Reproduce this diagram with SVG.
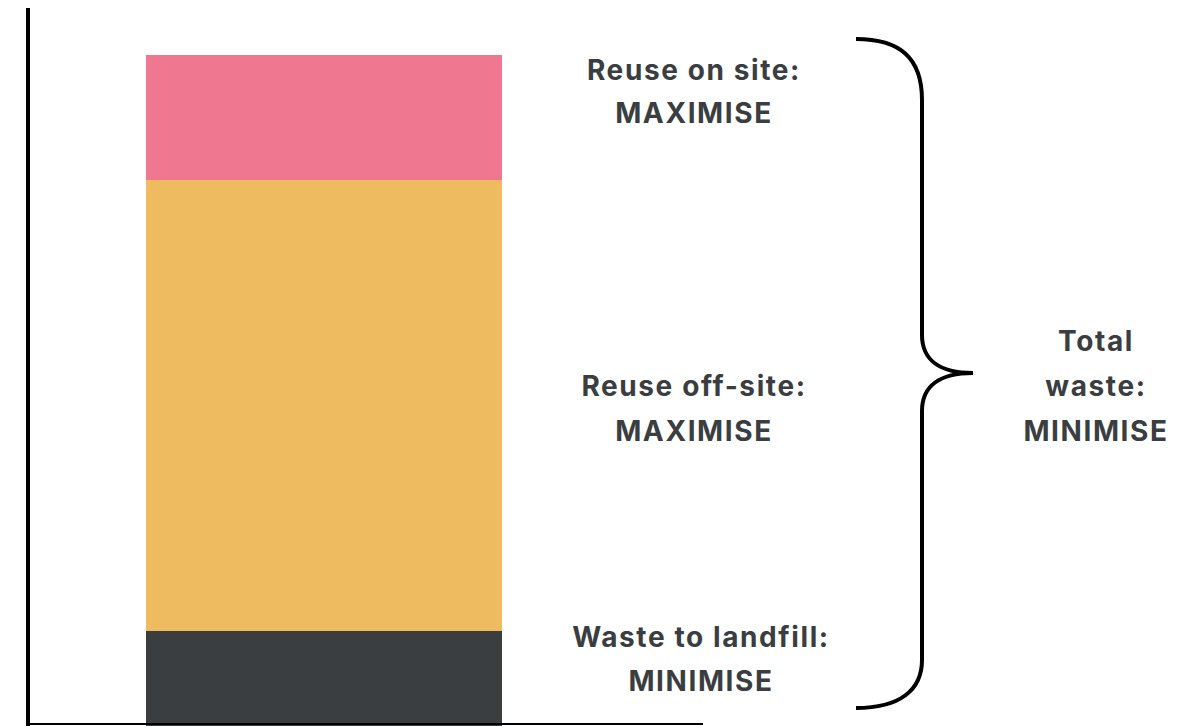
<svg xmlns="http://www.w3.org/2000/svg" width="1200" height="726" viewBox="0 0 1200 726">
  <style>
    .lbl { font-family: Inter, "Liberation Sans", sans-serif; font-weight: 700; font-size: 28px; letter-spacing: 1.6px; fill: #3a3e41; text-anchor: middle; }
    .axis { stroke: #000; fill: none; }
    .brace { stroke: #000; stroke-width: 4; fill: none; stroke-linecap: butt; }
  </style>
  <rect width="1200" height="726" fill="#fff"/>

  <!-- stacked bar -->
  <g id="bar-onsite"><rect x="146" y="55" width="356" height="125" fill="#ef778f"/></g>
  <g id="bar-offsite"><rect x="146" y="180" width="356" height="451" fill="#efbb60"/></g>
  <g id="bar-landfill"><rect x="146" y="631" width="356" height="95" fill="#3a3e41"/></g>

  <!-- axes -->
  <g id="axes">
    <line class="axis" x1="28" y1="8" x2="28" y2="726" stroke-width="4"/>
    <line class="axis" x1="26" y1="724" x2="703" y2="724" stroke-width="2"/>
  </g>

  <!-- labels -->
  <g id="label-onsite">
    <text class="lbl" x="694" y="80">Reuse on site:</text>
    <text class="lbl" x="694" y="123">MAXIMISE</text>
  </g>
  <g id="label-offsite">
    <text class="lbl" x="694" y="396">Reuse off-site:</text>
    <text class="lbl" x="694" y="441">MAXIMISE</text>
  </g>
  <g id="label-landfill">
    <text class="lbl" x="701" y="647">Waste to landfill:</text>
    <text class="lbl" x="701" y="691">MINIMISE</text>
  </g>

  <!-- brace grouping all categories -->
  <g id="connectors">
    <path class="brace" d="M856,39 C900,39 922,58 922,100 L922,335 C922,360 940,373 973,373 C940,373 922,386 922,411 L922,660 C922,690 900,708 856,708"/>
  </g>

  <g id="label-total">
    <text class="lbl" x="1096" y="351">Total</text>
    <text class="lbl" x="1096" y="396">waste:</text>
    <text class="lbl" x="1096" y="441">MINIMISE</text>
  </g>
</svg>
